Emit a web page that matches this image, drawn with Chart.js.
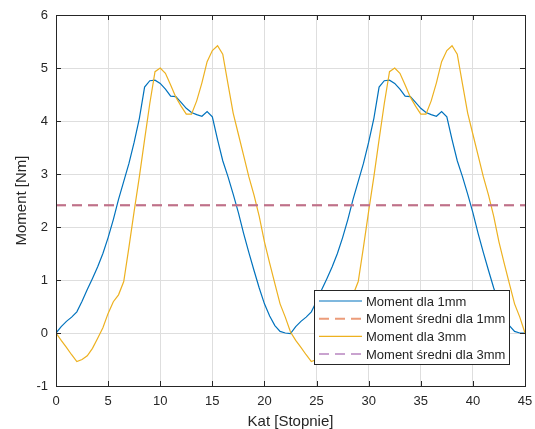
<!DOCTYPE html>
<html>
<head>
<meta charset="utf-8">
<script src="https://cdn.jsdelivr.net/npm/chart.js@4"></script>
<style>
  body { margin: 0; background: #fff; }
  #wrap { width: 535px; height: 429px; }
</style>
</head>
<body>
<div id="wrap"><canvas id="momentChart" width="535" height="429"></canvas></div>
<script>
// kat [stopnie], krok 0.5
const angles = [
  0, 0.5, 1, 1.5, 2, 2.5, 3, 3.5, 4, 4.5,
  5, 5.5, 6, 6.5, 7, 7.5, 8, 8.5, 9, 9.5,
  10, 10.5, 11, 11.5, 12, 12.5, 13, 13.5, 14, 14.5,
  15, 15.5, 16, 16.5, 17, 17.5, 18, 18.5, 19, 19.5,
  20, 20.5, 21, 21.5, 22, 22.5, 23, 23.5, 24, 24.5,
  25, 25.5, 26, 26.5, 27, 27.5, 28, 28.5, 29, 29.5,
  30, 30.5, 31, 31.5, 32, 32.5, 33, 33.5, 34, 34.5,
  35, 35.5, 36, 36.5, 37, 37.5, 38, 38.5, 39, 39.5,
  40, 40.5, 41, 41.5, 42, 42.5, 43, 43.5, 44, 44.5,
  45
];

// moment dla 1mm [Nm]
const moment1mm = [
  0, 0.12, 0.22, 0.30, 0.40, 0.60, 0.82, 1.03, 1.25, 1.50,
  1.80, 2.14, 2.52, 2.86, 3.20, 3.60, 4.05, 4.64, 4.76, 4.77,
  4.71, 4.60, 4.47, 4.46, 4.35, 4.24, 4.16, 4.12, 4.09, 4.18,
  4.08, 3.65, 3.25, 2.95, 2.62, 2.27, 1.88, 1.52, 1.18, 0.85,
  0.55, 0.32, 0.14, 0.03, 0.00, -0.01, 0.12, 0.22, 0.30, 0.40,
  0.60, 0.82, 1.03, 1.25, 1.50, 1.80, 2.14, 2.52, 2.86, 3.20,
  3.60, 4.05, 4.64, 4.76, 4.77, 4.71, 4.60, 4.47, 4.46, 4.35,
  4.24, 4.16, 4.12, 4.09, 4.18, 4.08, 3.65, 3.25, 2.95, 2.62,
  2.27, 1.88, 1.52, 1.18, 0.85, 0.55, 0.32, 0.14, 0.03, 0.00,
  0
];

// moment dla 3mm [Nm]
const moment3mm = [
  0, -0.14, -0.27, -0.41, -0.54, -0.50, -0.43, -0.29, -0.10, 0.10,
  0.37, 0.59, 0.72, 0.97, 1.62, 2.30, 2.95, 3.65, 4.33, 4.93,
  5.00, 4.90, 4.68, 4.45, 4.28, 4.13, 4.13, 4.38, 4.72, 5.12,
  5.33, 5.42, 5.26, 4.70, 4.15, 3.75, 3.35, 2.95, 2.60, 2.20,
  1.72, 1.32, 0.93, 0.55, 0.30, 0.02, -0.14, -0.27, -0.41, -0.54,
  -0.50, -0.43, -0.29, -0.10, 0.10, 0.37, 0.59, 0.72, 0.97, 1.62,
  2.30, 2.95, 3.65, 4.33, 4.93, 5.00, 4.90, 4.68, 4.45, 4.28,
  4.13, 4.13, 4.38, 4.72, 5.12, 5.33, 5.42, 5.26, 4.70, 4.15,
  3.75, 3.35, 2.95, 2.60, 2.20, 1.72, 1.32, 0.93, 0.55, 0.30,
  0
];

// moment sredni
const meanAngles = [0, 45];
const mean1mm = [2.41, 2.41];
const mean3mm = [2.41, 2.41];

const seriesLabels = ['Moment dla 1mm', 'Moment średni dla 1mm', 'Moment dla 3mm', 'Moment średni dla 3mm'];
const xTicks = [0, 5, 10, 15, 20, 25, 30, 35, 40, 45];
const yTicks = [-1, 0, 1, 2, 3, 4, 5, 6];

const axisColor = '#262626';
const fontFamily = '"Liberation Sans", Arial, Helvetica, sans-serif';

function toPoints(xs, ys) {
  return xs.map((x, i) => ({ x: x, y: ys[i] }));
}

// ramka osi i znaczniki do srodka (jak w MATLAB)
const boxPlugin = {
  id: 'boxPlugin',
  afterDraw(chart) {
    const ctx = chart.ctx;
    const a = chart.chartArea;
    const xs = chart.scales.x, ys = chart.scales.y;
    ctx.save();
    ctx.strokeStyle = axisColor;
    ctx.lineWidth = 1;
    ctx.beginPath();
    xTicks.forEach(v => {
      const px = Math.round(xs.getPixelForValue(v)) + 0.5;
      ctx.moveTo(px, a.bottom); ctx.lineTo(px, a.bottom - 5);
      ctx.moveTo(px, a.top); ctx.lineTo(px, a.top + 5);
    });
    yTicks.forEach(v => {
      const py = Math.round(ys.getPixelForValue(v)) + 0.5;
      ctx.moveTo(a.left, py); ctx.lineTo(a.left + 5, py);
      ctx.moveTo(a.right, py); ctx.lineTo(a.right - 5, py);
    });
    ctx.stroke();
    ctx.strokeRect(Math.round(a.left) + 0.5, Math.round(a.top) + 0.5,
      Math.round(a.right - a.left), Math.round(a.bottom - a.top));
    ctx.restore();
  }
};

// legenda w srodku wykresu, prawy dolny rog
const legendPlugin = {
  id: 'legendPlugin',
  afterDraw(chart) {
    const ctx = chart.ctx;
    const a = chart.chartArea;
    const w = 195, h = 74;
    const x0 = a.right - 16 - w, y0 = a.bottom - 22 - h;
    ctx.save();
    ctx.fillStyle = '#fff';
    ctx.fillRect(x0, y0, w, h);
    ctx.strokeStyle = axisColor;
    ctx.lineWidth = 1;
    ctx.strokeRect(Math.round(x0) + 0.5, Math.round(y0) + 0.5, w, h);
    ctx.font = '13px ' + fontFamily;
    ctx.textBaseline = 'middle';
    chart.data.datasets.forEach((ds, i) => {
      const y = y0 + 11 + i * 17.7;
      ctx.strokeStyle = ds.legendColor || ds.borderColor;
      ctx.lineWidth = ds.borderDash ? 2 : 1.2;
      ctx.setLineDash(ds.borderDash || []);
      ctx.beginPath();
      ctx.moveTo(x0 + 5, y); ctx.lineTo(x0 + 48, y);
      ctx.stroke();
      ctx.setLineDash([]);
      ctx.fillStyle = axisColor;
      ctx.fillText(ds.label, x0 + 52, y + 1);
    });
    ctx.restore();
  }
};

const ctx = document.getElementById('momentChart').getContext('2d');
const momentChart = new Chart(ctx, {
  type: 'line',
  data: {
    datasets: [
      {
        label: seriesLabels[0],
        data: toPoints(angles, moment1mm),
        borderColor: '#0072BD',
        borderWidth: 1.2,
        pointRadius: 0,
        tension: 0,
        order: 4
      },
      {
        label: seriesLabels[1],
        data: toPoints(meanAngles, mean1mm),
        borderColor: '#E8926A',
        legendColor: '#EC9C7A',
        borderWidth: 2,
        borderDash: [10, 6],
        pointRadius: 0,
        order: 2
      },
      {
        label: seriesLabels[2],
        data: toPoints(angles, moment3mm),
        borderColor: '#EDB120',
        borderWidth: 1.2,
        pointRadius: 0,
        tension: 0,
        order: 3
      },
      {
        label: seriesLabels[3],
        data: toPoints(meanAngles, mean3mm),
        borderColor: 'rgba(160, 90, 165, 0.6)',
        legendColor: '#C9A3CF',
        borderWidth: 2,
        borderDash: [10, 6],
        pointRadius: 0,
        order: 1
      }
    ]
  },
  options: {
    responsive: false,
    animation: false,
    devicePixelRatio: 1,
    layout: { padding: { top: 15, right: 10, left: 0, bottom: 0 } },
    plugins: {
      legend: { display: false },
      tooltip: { enabled: false }
    },
    scales: {
      x: {
        type: 'linear',
        min: 0,
        max: 45,
        afterFit: s => { s.height = 43; s.paddingLeft = 0; s.paddingRight = 0; },
        afterBuildTicks: s => { s.ticks = xTicks.map(v => ({ value: v })); },
        ticks: { color: axisColor, font: { family: fontFamily, size: 13 }, padding: 8, maxRotation: 0 },
        grid: { color: '#DEDEDE', drawTicks: false },
        border: { display: false },
        title: { display: true, text: 'Kat [Stopnie]', color: axisColor, font: { family: fontFamily, size: 15 }, padding: { top: 0, bottom: -2 } }
      },
      y: {
        min: -1,
        max: 6,
        afterFit: s => { s.width = 56; s.paddingTop = 0; s.paddingBottom = 0; },
        afterBuildTicks: s => { s.ticks = yTicks.map(v => ({ value: v })); },
        ticks: { color: axisColor, font: { family: fontFamily, size: 13 }, padding: 8 },
        grid: { color: '#DEDEDE', drawTicks: false },
        border: { display: false },
        title: { display: true, text: 'Moment [Nm]', color: axisColor, font: { family: fontFamily, size: 15 }, padding: { top: 13, bottom: 0 } }
      }
    }
  },
  plugins: [boxPlugin, legendPlugin]
});
</script>
</body>
</html>
